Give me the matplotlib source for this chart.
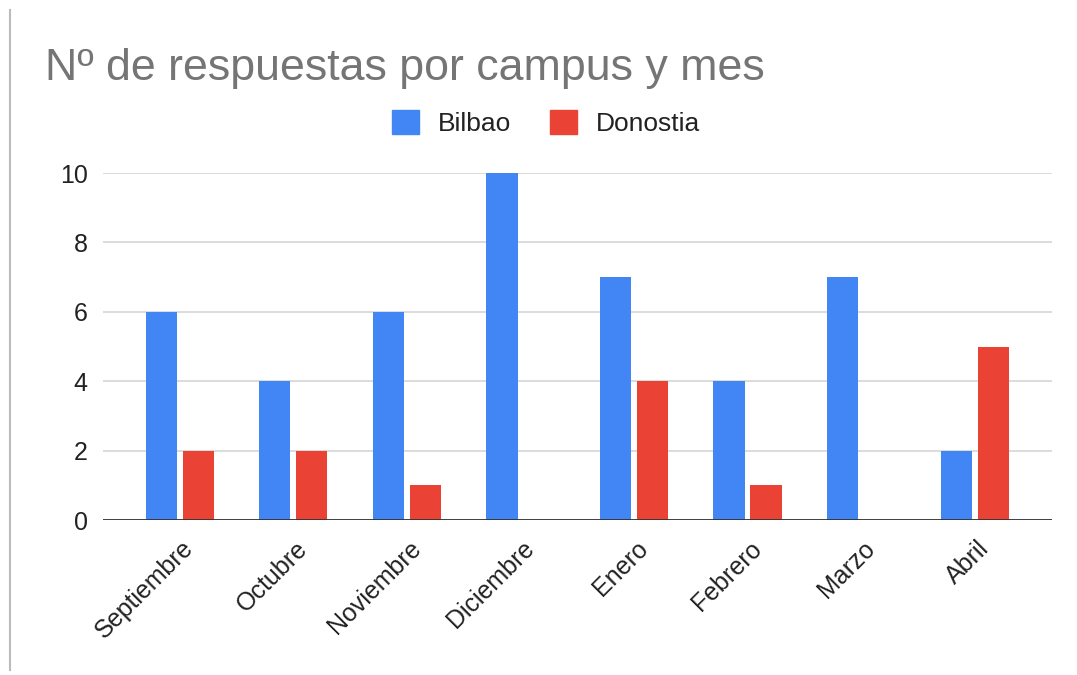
import matplotlib.pyplot as plt
import matplotlib.transforms as mtransforms
import numpy as np
from matplotlib.patches import Patch
from matplotlib.lines import Line2D

meses = ["Septiembre", "Octubre", "Noviembre", "Diciembre", "Enero", "Febrero", "Marzo", "Abril"]
bilbao = [6, 4, 6, 10, 7, 4, 7, 2]
donostia = [2, 2, 1, 0, 4, 1, 0, 5]

plt.rcParams['font.family'] = ['Liberation Sans', 'DejaVu Sans']

BLUE = '#4285F4'
RED = '#EA4335'

fig = plt.figure(figsize=(10.77, 6.75), dpi=100)
ax = fig.add_axes([0.0956, 0.2296, 0.8812, 0.5141])

x = np.arange(len(meses))
w = 0.275
ax.bar(x - 0.165, bilbao, w, color=BLUE, zorder=3)
ax.bar(x + 0.16, donostia, w, color=RED, zorder=3)

ax.set_xlim(-0.678, 7.678)
ax.set_ylim(0, 10)
ax.set_yticks([0, 2, 4, 6, 8, 10])
ax.grid(axis='y', color='#d9d9d9', linewidth=1.3, zorder=0)
ax.axhline(0, color='#333333', linewidth=1.3, zorder=4)
for s in ax.spines.values():
    s.set_visible(False)
ax.tick_params(length=0, labelsize=18, colors='#222222')
ax.tick_params(axis='y', pad=11)
ax.set_xticks(x)
ax.set_xticklabels(meses, rotation=45, ha='right', va='center', rotation_mode='anchor')
ax.tick_params(axis='x', pad=12)
shift = mtransforms.ScaledTranslation(10 / 100, -8 / 100, fig.dpi_scale_trans)
for lbl in ax.get_xticklabels():
    lbl.set_transform(lbl.get_transform() + shift)

fig.text(45 / 1077, 1 - 80 / 675, "Nº de respuestas por campus y mes",
         fontsize=32.2, color='#757575', va='baseline', ha='left')

handles = [Patch(color=BLUE, label='Bilbao'), Patch(color=RED, label='Donostia')]
leg = fig.legend(handles=handles, loc='center', bbox_to_anchor=(546 / 1077, 1 - 123 / 675),
                 ncol=2, frameon=False, fontsize=19, handlelength=1.02, handleheight=1.02,
                 handletextpad=0.72, columnspacing=1.48)
for t in leg.get_texts():
    t.set_color('#222222')

fig.add_artist(Line2D([10 / 1077, 10 / 1077], [5 / 675, 1 - 10 / 675],
                      color='#bbbbbb', linewidth=1.5, transform=fig.transFigure))

fig.savefig('out.png', dpi=100, facecolor='white')
